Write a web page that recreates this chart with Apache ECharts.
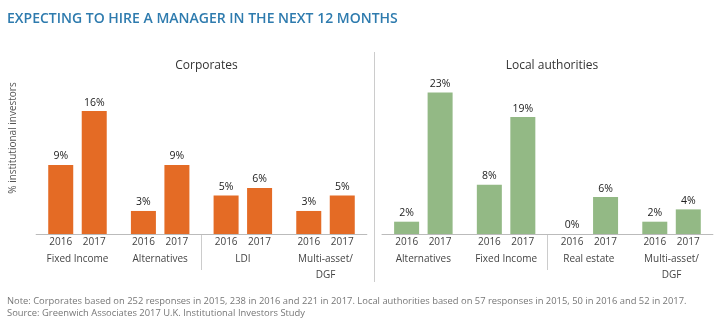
<!DOCTYPE html>
<html>
<head>
<meta charset="utf-8">
<script src="https://cdn.jsdelivr.net/npm/echarts@6/dist/echarts.min.js"></script>
<style>html,body{margin:0;padding:0;background:#fff}#c{width:720px;height:328px}</style>
</head>
<body>
<div id="c"></div>
<script>
const years = ['2016', '2017'];
const corpCats = ['Fixed Income', 'Alternatives', 'LDI', 'Multi-asset/\nDGF'];
const corp2016 = [9, 3, 5, 3];
const corp2017 = [16, 9, 6, 5];
const laCats = ['Alternatives', 'Fixed Income', 'Real estate', 'Multi-asset/\nDGF'];
const la2016 = [2, 8, 0, 2];
const la2017 = [23, 19, 6, 4];

const FONT = '"Open Sans", sans-serif';
const ORANGE = '#E46B25';
const GREEN = '#93B985';
const TXT = '#444';

function catLabel(v) {
  const lines = v.split('\n');
  let s = '{yr|' + years[0] + '}{yr|' + years[1] + '}';
  lines.forEach((l, i) => { s += '\n{' + (i === 0 ? 'c1' : 'c2') + '|' + l + '}'; });
  return s;
}
const richLbl = {
  yr: { width: 33.4, align: 'center', fontSize: 10, lineHeight: 16, color: TXT, fontFamily: FONT },
  c1: { fontSize: 10, lineHeight: 19, color: TXT, fontFamily: FONT },
  c2: { fontSize: 10, lineHeight: 13, color: TXT, fontFamily: FONT }
};
function mainX(grid, cats) {
  return {
    type: 'category', gridIndex: grid, data: cats,
    axisLine: { show: true, lineStyle: { color: '#bbb', width: 1 } },
    axisTick: { show: false },
    axisLabel: { formatter: catLabel, rich: richLbl, margin: 0, interval: 0 },
    splitLine: { show: false }
  };
}
function sepX(grid, cats) {
  return {
    type: 'category', gridIndex: grid, data: cats,
    axisLine: { show: false }, axisTick: { show: false }, axisLabel: { show: false },
    splitLine: { show: true, showMinLine: false, showMaxLine: false, lineStyle: { color: '#ccc', width: 1 } }
  };
}
function barSeries(name, data, xi, color) {
  return {
    type: 'bar', name: name, data: data, xAxisIndex: xi, yAxisIndex: xi,
    barWidth: 25, barGap: '34%', itemStyle: { color: color },
    label: { show: true, position: 'top', distance: 3, formatter: '{c}%', fontSize: 10.5, color: '#222', fontFamily: FONT },
    silent: true
  };
}

const chart = echarts.init(document.getElementById('c'), null, { renderer: 'canvas' });
chart.setOption({
  animation: false,
  title: [
    { text: 'EXPECTING TO HIRE A MANAGER IN THE NEXT 12 MONTHS', left: 2, top: 7,
      textStyle: { color: '#2E7BAE', fontSize: 14, fontWeight: 600, fontFamily: FONT } },
    { text: 'Corporates', left: 201.5, top: 55, textAlign: 'center',
      textStyle: { color: '#333', fontSize: 12, fontWeight: 'normal', fontFamily: FONT } },
    { text: 'Local authorities', left: 547, top: 55, textAlign: 'center',
      textStyle: { color: '#333', fontSize: 12, fontWeight: 'normal', fontFamily: FONT } },
    { text: 'Note: Corporates based on 252 responses in 2015, 238 in 2016 and 221 in 2017. Local authorities based on 57 responses in 2015, 50 in 2016 and 52 in 2017.\nSource: Greenwich Associates 2017 U.K. Institutional Investors Study',
      left: 2, top: 290,
      textStyle: { color: '#777', fontSize: 9.4, fontWeight: 'normal', lineHeight: 12, fontFamily: FONT } }
  ],
  grid: [
    { left: 36.15, right: 353.15, top: 42, height: 192 },
    { left: 382, right: 7.1, top: 42, height: 192 },
    { left: 36.15, right: 353.15, top: 234, height: 36 },
    { left: 382, right: 7.1, top: 234, height: 36 }
  ],
  xAxis: [mainX(0, corpCats), mainX(1, laCats), sepX(2, corpCats), sepX(3, laCats)],
  yAxis: [
    { type: 'value', gridIndex: 0, min: 0, max: 25, axisLine: { show: false }, axisTick: { show: false },
      axisLabel: { show: false }, splitLine: { show: false },
      name: '% institutional investors', nameLocation: 'middle', nameGap: 18,
      nameTextStyle: { color: '#555', fontSize: 10, fontFamily: FONT } },
    { type: 'value', gridIndex: 1, min: 0, max: 31.2, show: false },
    { type: 'value', gridIndex: 2, show: false },
    { type: 'value', gridIndex: 3, show: false }
  ],
  series: [
    barSeries(years[0], corp2016, 0, ORANGE),
    barSeries(years[1], corp2017, 0, ORANGE),
    barSeries(years[0], la2016, 1, GREEN),
    barSeries(years[1], la2017, 1, GREEN)
  ],
  graphic: [
    { type: 'line', shape: { x1: 374.5, y1: 52, x2: 374.5, y2: 282 }, style: { stroke: '#ccc', lineWidth: 1 }, silent: true }
  ]
});
</script>
</body>
</html>
